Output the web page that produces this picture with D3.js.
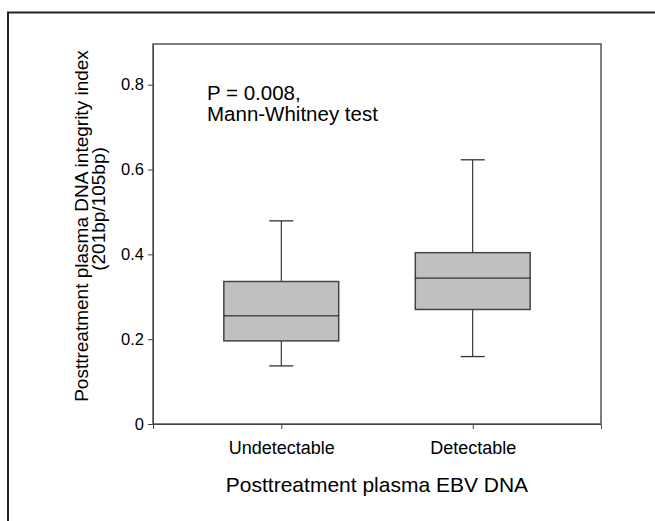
<!DOCTYPE html>
<html>
<head>
<meta charset="utf-8">
<script src="https://cdn.jsdelivr.net/npm/d3@7"></script>
<style>
  body { margin: 0; background: #fff; }
  svg { display: block; font-family: "Liberation Sans", Arial, sans-serif; }
</style>
</head>
<body>
<svg id="chart" width="655" height="521"></svg>
<script>
var categories = ["Undetectable", "Detectable"];
var whiskerLow = [0.137, 0.159];
var q1 = [0.196, 0.270];
var medians = [0.255, 0.344];
var q3 = [0.336, 0.404];
var whiskerHigh = [0.479, 0.623];
var yTicks = [0, 0.2, 0.4, 0.6, 0.8];

var svg = d3.select("#chart");
var margin = {left: 153, top: 44, right: 54, bottom: 97};
var width = 655 - margin.left - margin.right;
var height = 521 - margin.top - margin.bottom;

// outer frame, runs off the right and bottom edges
svg.append("path")
    .attr("d", "M8,530V12.5H660")
    .attr("fill", "none")
    .attr("stroke", "#222")
    .attr("stroke-width", 2);

var g = svg.append("g").attr("transform", "translate(" + margin.left + "," + margin.top + ")");

var x = d3.scalePoint().domain(categories).range([0, width]).padding(0.67);
var y = d3.scaleLinear().domain([0, 0.896]).range([height, 0]);
var boxW = x.step() * 0.6;
var capW = 24;

// plot frame
g.append("rect")
    .attr("width", width).attr("height", height)
    .attr("fill", "none")
    .attr("stroke", "#555")
    .attr("stroke-width", 1.5);

var yAxis = g.append("g")
    .call(d3.axisLeft(y).tickValues(yTicks).tickSize(5).tickSizeOuter(0).tickPadding(4)
        .tickFormat(d => d === 0 ? "0" : d.toFixed(1)));
yAxis.selectAll("text").attr("font-size", 16.5).attr("fill", "#000").attr("font-family", null);
yAxis.selectAll("line, path").attr("stroke", "#444");

var xAxis = g.append("g")
    .attr("transform", "translate(0," + height + ")")
    .call(d3.axisBottom(x).tickSize(5).tickSizeOuter(5).tickPadding(12));
xAxis.selectAll("text").attr("font-size", 18).attr("fill", "#000").attr("font-family", null);
xAxis.selectAll("line, path").attr("stroke", "#444");

var boxes = g.selectAll(".box")
    .data(categories)
    .enter().append("g")
    .attr("class", "box");

// whiskers
boxes.append("line")
    .attr("x1", d => x(d)).attr("x2", d => x(d))
    .attr("y1", (d, i) => y(whiskerHigh[i])).attr("y2", (d, i) => y(q3[i]))
    .attr("stroke", "#111");
boxes.append("line")
    .attr("x1", d => x(d)).attr("x2", d => x(d))
    .attr("y1", (d, i) => y(q1[i])).attr("y2", (d, i) => y(whiskerLow[i]))
    .attr("stroke", "#111");
boxes.append("line")
    .attr("x1", d => x(d) - capW / 2).attr("x2", d => x(d) + capW / 2)
    .attr("y1", (d, i) => y(whiskerHigh[i])).attr("y2", (d, i) => y(whiskerHigh[i]))
    .attr("stroke", "#333").attr("stroke-width", 1.3);
boxes.append("line")
    .attr("x1", d => x(d) - capW / 2).attr("x2", d => x(d) + capW / 2)
    .attr("y1", (d, i) => y(whiskerLow[i])).attr("y2", (d, i) => y(whiskerLow[i]))
    .attr("stroke", "#333").attr("stroke-width", 1.3);

boxes.append("rect")
    .attr("x", d => x(d) - boxW / 2)
    .attr("width", boxW)
    .attr("y", (d, i) => y(q3[i]))
    .attr("height", (d, i) => y(q1[i]) - y(q3[i]))
    .attr("fill", "#c0c0c0")
    .attr("stroke", "#444")
    .attr("stroke-width", 1.5);

boxes.append("line")
    .attr("x1", d => x(d) - boxW / 2).attr("x2", d => x(d) + boxW / 2)
    .attr("y1", (d, i) => y(medians[i])).attr("y2", (d, i) => y(medians[i]))
    .attr("stroke", "#111");

// annotation
g.append("text")
    .attr("x", 54).attr("y", 55.5)
    .attr("font-size", 20.5)
    .text("P = 0.008,");
g.append("text")
    .attr("x", 54).attr("y", 76.5)
    .attr("font-size", 20.5)
    .text("Mann-Whitney test");

// axis titles
svg.append("text")
    .attr("x", margin.left + width / 2).attr("y", 492)
    .attr("text-anchor", "middle")
    .attr("font-size", 21)
    .text("Posttreatment plasma EBV DNA");

svg.append("text")
    .attr("transform", "translate(88,226) rotate(-90)")
    .attr("text-anchor", "middle")
    .attr("font-size", 19)
    .text("Posttreatment plasma DNA integrity index");
svg.append("text")
    .attr("transform", "translate(105,209) rotate(-90)")
    .attr("text-anchor", "middle")
    .attr("font-size", 19)
    .text("(201bp/105bp)");
</script>
</body>
</html>
